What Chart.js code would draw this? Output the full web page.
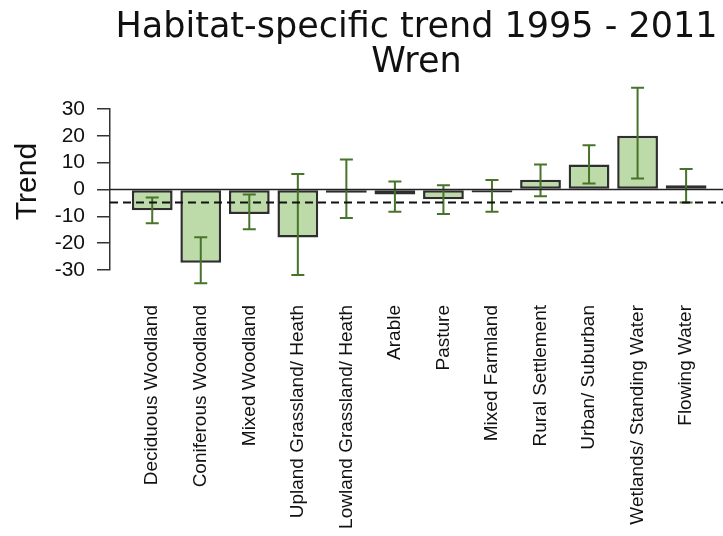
<!DOCTYPE html>
<html>
<head>
<meta charset="utf-8">
<title>Wren habitat trend</title>
<script src="https://cdn.jsdelivr.net/npm/chart.js@4.4.1/dist/chart.umd.min.js"></script>
<style>
  html, body { margin: 0; padding: 0; background: #fff; }
  #wrap { width: 723px; height: 536px; position: relative; }
</style>
</head>
<body>
<div id="wrap"><canvas id="grafico"></canvas></div>
<script>
// habitats (orden del eje x)
const categories = [
  'Deciduous Woodland', 'Coniferous Woodland', 'Mixed Woodland',
  'Upland Grassland/ Heath', 'Lowland Grassland/ Heath', 'Arable',
  'Pasture', 'Mixed Farmland', 'Rural Settlement', 'Urban/ Suburban',
  'Wetlands/ Standing Water', 'Flowing Water'
];

// tendencia por habitat y limites del intervalo
const trend = [-7.7, -27.3, -9.1, -17.9, -1.2, -1.9, -3.6, -1.1, 3.6, 9.3, 20.0, 1.6];
const lower = [-12.6, -34.9, -14.8, -31.9, -10.6, -8.3, -9.1, -8.3, -2.5, 2.2, 4.1, -4.8];
const upper = [-3.0, -17.8, -1.9, 5.8, 11.2, 3.0, 1.6, 3.5, 9.3, 16.5, 37.9, 7.6];

// tendencia global (linea punteada)
const overallTrend = -4.8;

// marcas del eje y
const yTicks = [-30, -20, -10, 0, 10, 20, 30];

const titleLines = ['Habitat-specific trend 1995 - 2011', 'Wren'];

// plugin: barras de error, lineas de referencia y textos
const extras = {
  id: 'extras',
  afterDatasetsDraw(chart) {
    const { ctx, chartArea, scales: { x, y } } = chart;
    ctx.save();

    // barras de error
    ctx.strokeStyle = '#48732a';
    ctx.lineWidth = 2;
    categories.forEach((c, i) => {
      const px = x.getPixelForValue(i);
      const top = y.getPixelForValue(upper[i]);
      const bot = y.getPixelForValue(lower[i]);
      ctx.beginPath();
      ctx.moveTo(px, top); ctx.lineTo(px, bot);
      ctx.moveTo(px - 6.5, top); ctx.lineTo(px + 6.5, top);
      ctx.moveTo(px - 6.5, bot); ctx.lineTo(px + 6.5, bot);
      ctx.stroke();
    });

    // linea del cero
    const y0 = y.getPixelForValue(0);
    ctx.strokeStyle = '#222';
    ctx.lineWidth = 1.5;
    ctx.beginPath();
    ctx.moveTo(chartArea.left, y0);
    ctx.lineTo(chart.width, y0);
    ctx.stroke();

    // tendencia global
    const yt = y.getPixelForValue(overallTrend);
    ctx.strokeStyle = '#111';
    ctx.lineWidth = 2;
    ctx.setLineDash([8, 5]);
    ctx.beginPath();
    ctx.moveTo(chartArea.left, yt);
    ctx.lineTo(chart.width, yt);
    ctx.stroke();
    ctx.setLineDash([]);

    // titulo
    const cx = (chartArea.left + chartArea.right) / 2;
    ctx.fillStyle = '#111';
    ctx.font = '35px "DejaVu Sans"';
    ctx.textAlign = 'center';
    ctx.textBaseline = 'alphabetic';
    ctx.fillText(titleLines[0], cx, 37);
    ctx.fillText(titleLines[1], cx, 72);

    // titulo del eje y
    ctx.font = '30px "Liberation Sans"';
    ctx.translate(36, (chartArea.top + chartArea.bottom) / 2 - 8);
    ctx.rotate(-Math.PI / 2);
    ctx.fillText('Trend', 0, 0);

    ctx.restore();
  }
};

const ctx = document.getElementById('grafico').getContext('2d');
const chartInstance = new Chart(ctx, {
  type: 'bar',
  data: {
    datasets: [{
      data: categories.map((c, i) => ({ x: i, y: trend[i] })),
      backgroundColor: '#bddba8',
      borderColor: '#2e2e2e',
      borderWidth: 2.5,
      borderSkipped: false,
      categoryPercentage: 0.84,
      barPercentage: 1,
      clip: false
    }]
  },
  options: {
    responsive: true,
    maintainAspectRatio: false,
    animation: false,
    layout: { padding: { top: 109, right: 0, bottom: 0, left: 0 } },
    plugins: {
      legend: { display: false },
      tooltip: { enabled: false },
      title: { display: false }
    },
    scales: {
      x: {
        type: 'linear',
        offset: false,
        min: -0.87,
        max: 11.76,
        grid: { display: false, drawTicks: false },
        border: { display: false },
        afterBuildTicks: scale => {
          scale.ticks = categories.map((c, i) => ({ value: i }));
        },
        afterFit: scale => {
          scale.height = 266;
          scale.paddingLeft = 0;
          scale.paddingRight = 0;
        },
        ticks: {
          autoSkip: false,
          minRotation: 90,
          maxRotation: 90,
          padding: 35,
          color: '#111',
          font: { family: 'Liberation Sans', size: 19 },
          callback: (value, index) => categories[index]
        }
      },
      y: {
        min: -30,
        max: 30,
        afterBuildTicks: scale => {
          scale.ticks = yTicks.map(v => ({ value: v }));
        },
        afterFit: scale => {
          scale.width = 110;
          scale.paddingTop = 0;
          scale.paddingBottom = 0;
        },
        grid: {
          drawOnChartArea: false,
          drawTicks: true,
          tickLength: 13,
          color: '#333',
          lineWidth: 1.5
        },
        border: { display: true, color: '#333', width: 1.5 },
        ticks: {
          autoSkip: false,
          padding: 12,
          color: '#111',
          font: { family: 'Liberation Sans', size: 21 }
        }
      }
    }
  },
  plugins: [extras]
});
</script>
</body>
</html>
